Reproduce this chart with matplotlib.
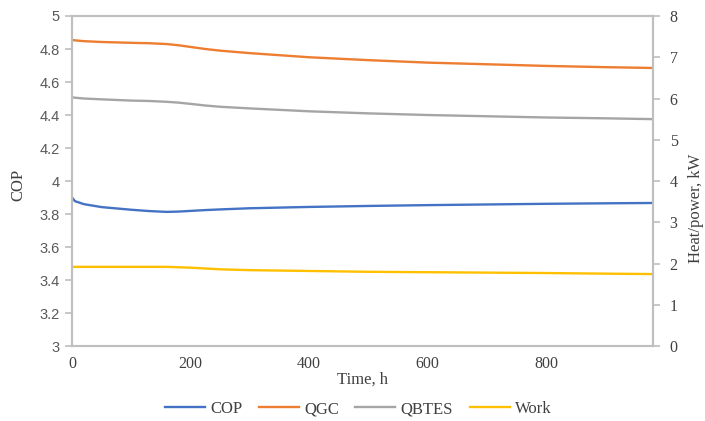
import numpy as np
import matplotlib.pyplot as plt

# time axis, hours
time_h = [0, 5, 20, 50, 100, 130, 160, 180, 200, 225, 250, 300, 400, 500,
          600, 700, 800, 900, 980]

# coefficient of performance (left axis)
cop = [3.90, 3.878, 3.860, 3.842, 3.826, 3.818, 3.813, 3.815, 3.819, 3.824,
       3.828, 3.835, 3.843, 3.849, 3.854, 3.858, 3.862, 3.865, 3.867]

# heat / power, kW (right axis)
qgc = [7.42, 7.41, 7.39, 7.37, 7.35, 7.34, 7.32, 7.29, 7.25, 7.20,
       7.16, 7.10, 7.00, 6.93, 6.87, 6.83, 6.79, 6.76, 6.74]
qbtes = [6.03, 6.02, 6.00, 5.98, 5.95, 5.94, 5.92, 5.90, 5.87, 5.83,
         5.80, 5.76, 5.69, 5.64, 5.60, 5.57, 5.54, 5.52, 5.50]
work = [1.92, 1.92, 1.92, 1.92, 1.92, 1.92, 1.92, 1.91, 1.90, 1.88,
        1.86, 1.84, 1.82, 1.80, 1.79, 1.78, 1.77, 1.755, 1.745]

left_ticks = [3, 3.2, 3.4, 3.6, 3.8, 4, 4.2, 4.4, 4.6, 4.8, 5]
left_labels = ['3', '3.2', '3.4', '3.6', '3.8', '4', '4.2', '4.4', '4.6', '4.8', '5']

serif = 'Liberation Serif'
axis_grey = '#BFBFBF'
lw = 1.7

fig = plt.figure(figsize=(7.05, 4.21), dpi=100)
ax = fig.add_axes([0.1021, 0.178, 0.824, 0.784])
ax2 = ax.twinx()

l1, = ax.plot(time_h, cop, color='#4472C4', lw=lw, label='COP')
l2, = ax2.plot(time_h, qgc, color='#ED7D31', lw=lw, label='QGC')
l3, = ax2.plot(time_h, qbtes, color='#A5A5A5', lw=lw, label='QBTES')
l4, = ax2.plot(time_h, work, color='#FFC000', lw=lw, label='Work')

ax.set_xlim(0, 980)
ax.set_ylim(3, 5)
ax2.set_ylim(0, 8)

ax.set_yticks(left_ticks)
ax.set_yticklabels(left_labels, family='Liberation Sans', fontsize=10.5, color='#595959')
ax.set_xticks([0, 200, 400, 600, 800])
ax.set_xticklabels(['0', '200', '400', '600', '800'], family=serif, fontsize=11.5, color='#404040')
ax2.set_yticks(range(0, 9))
ax2.set_yticklabels([str(v) for v in range(0, 9)], family=serif, fontsize=11.5, color='#404040')

ax.tick_params(axis='x', length=0, pad=7)
ax.tick_params(axis='y', length=5, width=1.2, color=axis_grey, pad=4)
ax2.tick_params(axis='y', length=5, width=1.2, color=axis_grey, pad=7)

for a in (ax, ax2):
    for s in a.spines.values():
        s.set_color(axis_grey)
        s.set_linewidth(1.5)

ax.set_xlabel('Time, h', family=serif, fontsize=12, color='#404040', labelpad=0)
fig.text(0.026, 0.56, 'COP', rotation=90, ha='center', va='center',
         family=serif, fontsize=12, color='#404040')
fig.text(0.987, 0.505, 'Heat/power, kW', rotation=90, ha='center', va='center',
         family=serif, fontsize=12, color='#404040')

fig.legend(handles=[l1, l2, l3, l4], loc='center', bbox_to_anchor=(0.508, 0.028),
           ncol=4, frameon=False, prop={'family': serif, 'size': 12},
           handlelength=2.4, handletextpad=0.3, columnspacing=1.0,
           labelcolor='#404040')

fig.savefig('out.png', dpi=100)
